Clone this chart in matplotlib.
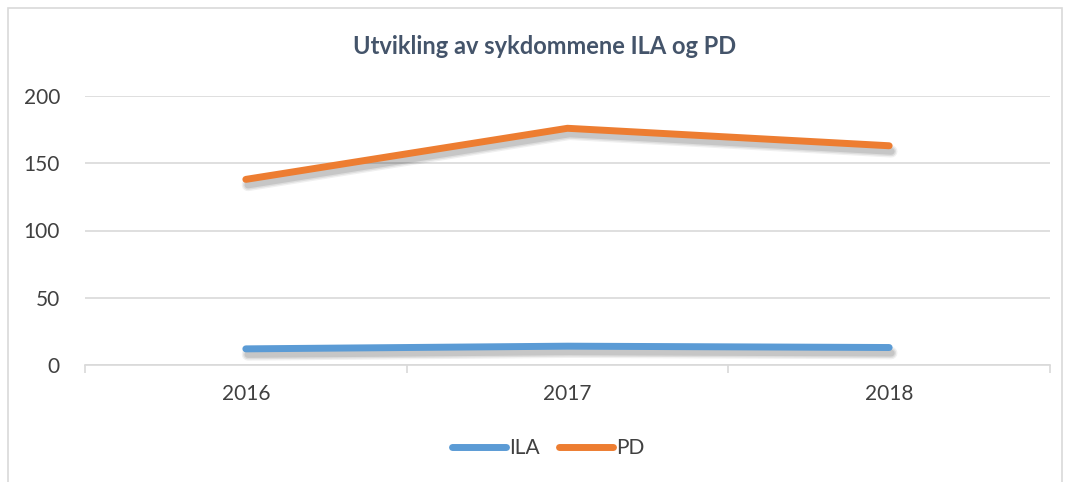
import matplotlib
matplotlib.use("Agg")
import matplotlib.pyplot as plt
import matplotlib.patheffects as pe
from matplotlib.patches import Rectangle
from matplotlib.lines import Line2D

years = ["2016", "2017", "2018"]
ila = [12, 14, 13]
pd_vals = [138, 176, 163]
yticks = [0, 50, 100, 150, 200]

plt.rcParams['font.family'] = ['Lato', 'DejaVu Sans']

W, H = 1066, 482
fig = plt.figure(figsize=(W/100, H/100), dpi=100)

# outer chart border
fig.patches.append(Rectangle((8/W, -0.05), (1062-8)/W, 1.05 - 8/H,
                             transform=fig.transFigure, fill=False,
                             edgecolor="#D9D9D9", linewidth=1.2))

ax = fig.add_axes([85/W, 1-365/H, (1050-85)/W, (365-96)/H])
x = list(range(len(years)))
shadow = []
for dx, dy, a, w in [(1.5, -4, 0.06, 9), (1.5, -4, 0.08, 7), (1.5, -4, 0.10, 5)]:
    shadow.append(pe.SimpleLineShadow(offset=(dx, dy), shadow_color="#000000", alpha=a, linewidth=w))
shadow.append(pe.Normal())
ax.plot(x, ila, color="#5B9BD5", lw=5, solid_capstyle="round", path_effects=shadow)
ax.plot(x, pd_vals, color="#ED7D31", lw=5, solid_capstyle="round", path_effects=shadow)

ax.set_xlim(-0.5, len(years)-0.5)
ax.set_ylim(0, 200)
ax.set_yticks(yticks)
ax.set_yticklabels([str(v) for v in yticks])
ax.yaxis.grid(True, color="#D9D9D9", lw=1.2)
ax.set_axisbelow(True)
for s in ["top", "right", "left"]:
    ax.spines[s].set_visible(False)
ax.spines["bottom"].set_color("#D9D9D9")
ax.spines["bottom"].set_linewidth(1.2)
ax.tick_params(axis="y", length=0, pad=18, labelsize=15, labelcolor="#404040")
ax.set_xticks(x)
ax.set_xticklabels(years)
ax.set_xticks([i - 0.5 for i in range(len(years)+1)], minor=True)
ax.tick_params(axis="x", which="major", length=0, pad=14, labelsize=15, labelcolor="#404040")
ax.tick_params(axis="x", which="minor", length=6, color="#D9D9D9", width=1.2)

fig.text(545/W, 1-46/H, "Utvikling av sykdommene ILA og PD", ha="center", va="center",
         fontsize=17, fontweight="bold", color="#44546A")

handles = [Line2D([], [], color="#5B9BD5", lw=5, solid_capstyle="round"),
           Line2D([], [], color="#ED7D31", lw=5, solid_capstyle="round")]
fig.legend(handles, ["ILA", "PD"], loc="center", bbox_to_anchor=(548/W, 1-448/H), ncol=2,
           frameon=False, fontsize=15, handlelength=2.6, handletextpad=0.15,
           columnspacing=0.9, labelcolor="#404040")

fig.savefig("out.png", dpi=100)
